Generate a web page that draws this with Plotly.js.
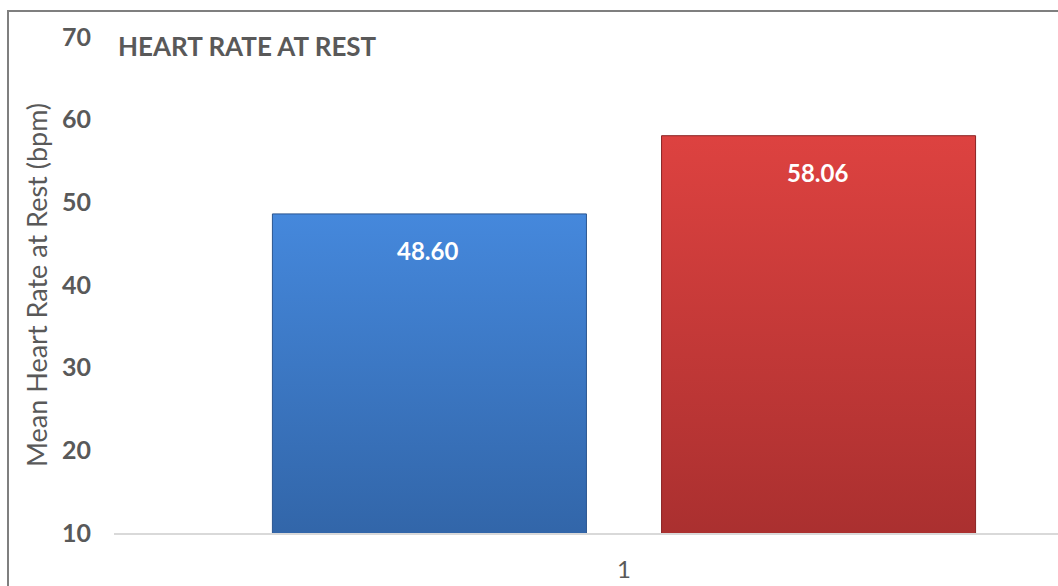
<!DOCTYPE html>
<html>
<head>
<meta charset="utf-8">
<script src="https://cdn.plot.ly/plotly-3.0.1.min.js"></script>
<style>
  html, body { margin: 0; padding: 0; background: #ffffff; }
  #wrap { position: relative; width: 1058px; height: 586px; overflow: hidden; }
  #chart { width: 1058px; height: 586px; }
  #frame { position: absolute; left: 7px; top: 10px; width: 1100px; height: 700px;
           border-left: 2px solid #7f7f7f; border-top: 2px solid #7f7f7f; pointer-events: none; }
</style>
</head>
<body>
<div id="wrap">
  <div id="chart"></div>
  <div id="frame"></div>
</div>
<script>
// ---- data ----
const categories = ["1"];
const seriesNames = ["Group A", "Group B"];
const seriesA = [48.60];
const seriesB = [58.06];
const yTickValues = [10, 20, 30, 40, 50, 60, 70];
const chartTitle = "HEART RATE AT REST";
const yTitle = "Mean Heart Rate at Rest (bpm)";

const FONT = "Lato, 'Open Sans', sans-serif";
const GRAY = "#595959";

const traces = [
  {
    type: "bar", name: seriesNames[0], x: categories, y: seriesA,
    marker: { color: "#3a76c6", line: { color: "#2a5590", width: 1 } },
    hoverinfo: "none"
  },
  {
    type: "bar", name: seriesNames[1], x: categories, y: seriesB,
    marker: { color: "#c93a3a", line: { color: "#8a2424", width: 1 } },
    hoverinfo: "none"
  }
];

const catIndex = 0; // position of categories[0] on the category axis
const annotations = [
  { xref: "x", yref: "y", x: catIndex, y: seriesA[0], xshift: -196, yshift: -37,
    text: seriesA[0].toFixed(2), showarrow: false,
    font: { family: FONT, size: 24, color: "#ffffff", weight: "bold" } },
  { xref: "x", yref: "y", x: catIndex, y: seriesB[0], xshift: 194, yshift: -37,
    text: seriesB[0].toFixed(2), showarrow: false,
    font: { family: FONT, size: 24, color: "#ffffff", weight: "bold" } }
];

const layout = {
  width: 1058, height: 586,
  margin: { l: 114, r: 0, t: 37, b: 53, pad: 0 },
  paper_bgcolor: "#ffffff", plot_bgcolor: "#ffffff",
  showlegend: false,
  barmode: "group",
  bargap: 0.237,
  bargroupgap: 0.193,
  font: { family: FONT, color: GRAY },
  title: {
    text: chartTitle, xref: "container", yref: "container",
    x: 118 / 1058, xanchor: "left", y: 1 - 47 / 586, yanchor: "middle",
    font: { family: FONT, size: 26, color: GRAY, weight: "bold" }
  },
  xaxis: {
    type: "category", range: [-0.5, 0.4255],
    showgrid: false, zeroline: false,
    showline: true, linecolor: "#d9d9d9", linewidth: 2,
    ticks: "", ticklabelstandoff: 14,
    tickfont: { family: FONT, size: 24, color: GRAY }
  },
  yaxis: {
    range: [10, 70], tickvals: yTickValues, ticktext: yTickValues.map(String),
    showgrid: false, zeroline: false, showline: false, ticks: "",
    ticklabelstandoff: 22,
    tickfont: { family: FONT, size: 25, color: GRAY, weight: "bold" },
    title: { text: yTitle, standoff: 6, font: { family: FONT, size: 27, color: GRAY } }
  },
  annotations: annotations
};

const gradients = [
  { id: "gradBlue", top: "#4588dc", bottom: "#2d5d9c" },
  { id: "gradRed", top: "#dd4240", bottom: "#a02c2c" }
];

function applyGradients(gd) {
  const svg = gd.querySelector("svg.main-svg");
  if (!svg) return;
  let defs = svg.querySelector("defs");
  if (!defs) {
    defs = document.createElementNS("http://www.w3.org/2000/svg", "defs");
    svg.insertBefore(defs, svg.firstChild);
  }
  gradients.forEach(g => {
    if (defs.querySelector("#" + g.id)) return;
    const lg = document.createElementNS("http://www.w3.org/2000/svg", "linearGradient");
    lg.setAttribute("id", g.id);
    lg.setAttribute("x1", "0"); lg.setAttribute("y1", "0");
    lg.setAttribute("x2", "0"); lg.setAttribute("y2", "1");
    [["0", g.top], ["1", g.bottom]].forEach(([off, col]) => {
      const s = document.createElementNS("http://www.w3.org/2000/svg", "stop");
      s.setAttribute("offset", off); s.setAttribute("stop-color", col);
      lg.appendChild(s);
    });
    defs.appendChild(lg);
  });
  const traceGroups = gd.querySelectorAll(".barlayer .trace.bars");
  traceGroups.forEach((tg, i) => {
    const g = gradients[i % gradients.length];
    tg.querySelectorAll(".point path").forEach(p => {
      p.style.fill = "url(#" + g.id + ")";
    });
  });
}

Plotly.newPlot("chart", traces, layout, { displayModeBar: false, staticPlot: true })
  .then(gd => applyGradients(gd));
</script>
</body>
</html>
